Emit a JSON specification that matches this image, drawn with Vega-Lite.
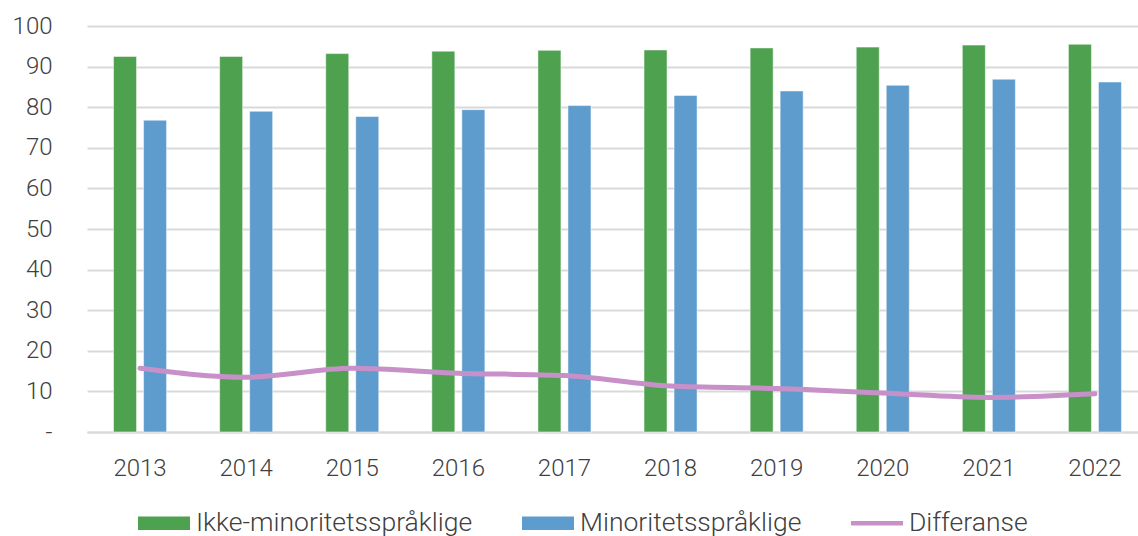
{
  "$schema": "https://vega.github.io/schema/vega-lite/v6.json",
  "autosize": {"type": "none"},
  "width": 1051,
  "height": 406,
  "padding": {"left": 87, "top": 26, "right": 0, "bottom": 104},
  "background": "white",
  "config": {
    "view": {"stroke": null},
    "font": "Roboto",
    "axis": {"labelFont": "Roboto", "labelFontWeight": 300, "labelColor": "#404040", "labelFontSize": 24},
    "legend": {"labelFont": "Roboto", "labelFontWeight": 300, "labelColor": "#404040", "labelFontSize": 26.5, "labelLimit": 0}
  },
  "data": {
    "values": [
      {"year": "2013", "series": "Ikke-minoritetsspråklige", "value": 92.5},
      {"year": "2014", "series": "Ikke-minoritetsspråklige", "value": 92.5},
      {"year": "2015", "series": "Ikke-minoritetsspråklige", "value": 93.2},
      {"year": "2016", "series": "Ikke-minoritetsspråklige", "value": 93.8},
      {"year": "2017", "series": "Ikke-minoritetsspråklige", "value": 94.0},
      {"year": "2018", "series": "Ikke-minoritetsspråklige", "value": 94.1},
      {"year": "2019", "series": "Ikke-minoritetsspråklige", "value": 94.6},
      {"year": "2020", "series": "Ikke-minoritetsspråklige", "value": 94.8},
      {"year": "2021", "series": "Ikke-minoritetsspråklige", "value": 95.3},
      {"year": "2022", "series": "Ikke-minoritetsspråklige", "value": 95.5},
      {"year": "2013", "series": "Minoritetsspråklige", "value": 76.8},
      {"year": "2014", "series": "Minoritetsspråklige", "value": 79.0},
      {"year": "2015", "series": "Minoritetsspråklige", "value": 77.7},
      {"year": "2016", "series": "Minoritetsspråklige", "value": 79.4},
      {"year": "2017", "series": "Minoritetsspråklige", "value": 80.4},
      {"year": "2018", "series": "Minoritetsspråklige", "value": 82.9},
      {"year": "2019", "series": "Minoritetsspråklige", "value": 84.0},
      {"year": "2020", "series": "Minoritetsspråklige", "value": 85.4},
      {"year": "2021", "series": "Minoritetsspråklige", "value": 86.9},
      {"year": "2022", "series": "Minoritetsspråklige", "value": 86.2},
      {"year": "2013", "series": "Differanse", "value": 15.7},
      {"year": "2014", "series": "Differanse", "value": 13.5},
      {"year": "2015", "series": "Differanse", "value": 15.7},
      {"year": "2016", "series": "Differanse", "value": 14.5},
      {"year": "2017", "series": "Differanse", "value": 13.9},
      {"year": "2018", "series": "Differanse", "value": 11.3},
      {"year": "2019", "series": "Differanse", "value": 10.7},
      {"year": "2020", "series": "Differanse", "value": 9.6},
      {"year": "2021", "series": "Differanse", "value": 8.5},
      {"year": "2022", "series": "Differanse", "value": 9.4}
    ]
  },
  "encoding": {
    "x": {
      "field": "year", "type": "nominal",
      "scale": {"range": [0, 1061], "paddingInner": 0.5, "paddingOuter": 0.25},
      "axis": {"title": null, "labelAngle": 0, "ticks": false, "domainColor": "#d9d9d9", "domainWidth": 2, "labelPadding": 24, "grid": false}
    },
    "y": {
      "field": "value", "type": "quantitative",
      "scale": {"domain": [0, 100], "nice": false},
      "axis": {"title": null, "values": [0,10,20,30,40,50,60,70,80,90,100], "labelExpr": "datum.value == 0 ? '-' : datum.label", "ticks": false, "domain": false, "gridColor": "#d9d9d9", "gridWidth": 2, "labelPadding": 35}
    },
    "color": {
      "field": "series", "type": "nominal",
      "scale": {"domain": ["Ikke-minoritetsspråklige", "Minoritetsspråklige", "Differanse"], "range": ["#4EA24F", "#5F9CCE", "#C890C8"]},
      "legend": {
        "title": null, "orient": "none", "direction": "horizontal", "legendX": 51, "legendY": 471,
        "symbolType": "M-1,-0.26H1V0.26H-1Z", "symbolSize": 2704, "symbolStrokeWidth": 0,
        "labelOffset": 6, "columnPadding": 49, "padding": 0, "labelLimit": 0,
        "encode": {"symbols": {"update": {"shape": {"signal": "datum.value == 'Differanse' ? 'M-1,-0.09H1V0.09H-1Z' : 'M-1,-0.26H1V0.26H-1Z'"}}}}
      }
    }
  },
  "layer": [
    {
      "transform": [{"filter": "datum.series != 'Differanse'"}],
      "mark": {"type": "bar", "strokeWidth": 1, "strokeOpacity": 0.5, "stroke": "#ffffff"},
      "encoding": {
        "xOffset": {"field": "series", "type": "nominal", "sort": ["Ikke-minoritetsspråklige", "Minoritetsspråklige"], "scale": {"paddingInner": 0.233, "paddingOuter": 0}}
      }
    },
    {
      "transform": [{"filter": "datum.series == 'Differanse'"}],
      "mark": {"type": "line", "strokeWidth": 5, "strokeCap": "round", "interpolate": "monotone"},
      "encoding": {}
    }
  ]
}
